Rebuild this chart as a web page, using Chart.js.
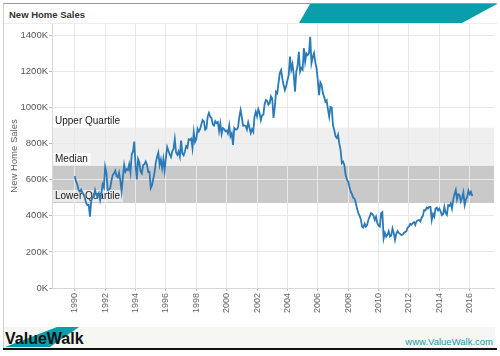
<!DOCTYPE html>
<html>
<head>
<meta charset="utf-8">
<script src="https://cdn.jsdelivr.net/npm/chart.js@4/dist/chart.umd.min.js"></script>
<style>
  html, body { margin: 0; padding: 0; background: #fff; }
  #wrap { position: relative; width: 500px; height: 356px; overflow: hidden; font-family: "Liberation Sans", Arial, sans-serif; }
  #frame { position: absolute; left: 3px; top: 3px; width: 494px; height: 345px; border-left: 1px solid #cfcfcf; border-top: 1px solid #9a9a9a; box-sizing: border-box; }
  #hdrline { position: absolute; left: 4px; top: 23px; width: 493px; height: 1px; background: #eeeeee; }
  #teal { position: absolute; left: 299px; top: 4px; width: 198px; height: 19px; background: #0a9eaa; clip-path: polygon(11px 0, 198px 0, 163px 19px, 0 19px); }
  #title { position: absolute; left: 9px; top: 9px; font-size: 9.5px; font-weight: bold; color: #333; }
  #footer { position: absolute; left: 4px; top: 327px; width: 491px; height: 21px; background: #f6f6f3; }
  #logoShape { position: absolute; left: 5px; top: 327px; width: 74px; height: 20px; background: #0a9eaa; clip-path: polygon(52px 0, 74px 0, 45px 20px, 0 20px); }
  #logo { position: absolute; left: 5px; top: 330px; font-size: 16px; font-weight: bold; color: #111; letter-spacing: 0px; }
  #url { position: absolute; right: 7px; top: 336px; font-size: 9.5px; color: #1a9aa8; }
  #bline { position: absolute; left: 3px; top: 348px; width: 494px; height: 2px; background: #111; }
  canvas { position: absolute; left: 0; top: 0; }
</style>
</head>
<body>
<div id="wrap">
  <div id="frame"></div>
  <div id="hdrline"></div>
  <div id="teal"></div>
  <div id="title">New Home Sales</div>
  <div id="footer"></div>
  <div id="logoShape"></div>
  <div id="logo">ValueWalk</div>
  <div id="url">www.ValueWalk.com</div>
  <div id="bline"></div>
  <canvas id="c" width="500" height="356"></canvas>
</div>
<script>
// ---- data (thousands of homes, seasonally adjusted annual rate), monthly from Jan 1990 ----
const firstYear = 1990;
const sales1990s = [
  620, 591, 574, 542, 534, 545, 529, 517, 499, 470, 460, 460,   // 1990
  395, 482, 507, 508, 543, 516, 511, 526, 487, 524, 575, 558,   // 1991
  672, 639, 543, 546, 554, 596, 627, 636, 650, 621, 614, 639,   // 1992
  595, 536, 614, 682, 645, 659, 653, 686, 640, 741, 757, 811,   // 1993
  678, 602, 714, 695, 646, 635, 681, 685, 701, 684, 643, 644,   // 1994
  554, 570, 604, 641, 693, 728, 751, 681, 711, 663, 715, 651,   // 1995
  723, 781, 760, 740, 726, 758, 771, 825, 752, 738, 756, 728,   // 1996
  817, 745, 735, 757, 786, 778, 824, 821, 828, 775, 863, 808,   // 1997
  824, 882, 867, 881, 907, 931, 923, 877, 883, 950, 971, 949,   // 1998
  942, 907, 900, 925, 914, 920, 869, 912, 853, 886, 881, 869    // 1999
];
const sales2000s = [
  873, 856, 900, 841, 857, 793, 887, 879, 878, 891, 948, 986,   // 2000
  945, 899, 901, 898, 878, 918, 889, 858, 880, 865, 949, 977,   // 2001
  951, 991, 970, 930, 958, 960, 1020, 1042, 1036, 1016, 1025, 1062, // 2002
  1050, 942, 1000, 1088, 1080, 1140, 1191, 1208, 1160, 1125, 1097, 1120, // 2003
  1150, 1180, 1282, 1210, 1240, 1180, 1088, 1200, 1230, 1309, 1200, 1220, // 2004
  1210, 1330, 1254, 1300, 1290, 1300, 1392, 1246, 1280, 1302, 1250, 1219, // 2005
  1150, 1069, 1140, 1125, 1080, 1060, 1032, 1040, 990, 949, 1004, 1000,  // 2006
  900, 875, 840, 831, 850, 800, 764, 692, 700, 680, 626, 600,   // 2007
  590, 560, 534, 520, 500, 495, 471, 440, 415, 400, 380, 340,   // 2008
  335, 356, 340, 350, 380, 395, 415, 410, 400, 377, 395, 360    // 2009
];
const sales2010s = [
  345, 340, 414, 420, 275, 305, 285, 295, 315, 285, 290, 330,   // 2010
  305, 266, 300, 315, 305, 300, 294, 295, 305, 310, 315, 335,   // 2011
  340, 355, 350, 360, 365, 350, 370, 375, 377, 370, 390, 400,   // 2012
  432, 430, 445, 440, 450, 450, 377, 410, 395, 440, 445, 430,   // 2013
  440, 425, 404, 410, 450, 415, 405, 460, 455, 469, 440, 490,   // 2014
  520, 543, 490, 520, 515, 480, 500, 530, 460, 490, 505, 540,   // 2015
  520, 533, 510                                                 // 2016
];
const quartileValues = [471, 677, 888];
const quartileNames = ['Lower Quartile', 'Median', 'Upper Quartile'];
const yearTicks = [1990, 1992, 1994, 1996, 1998, 2000, 2002, 2004, 2006, 2008, 2010, 2012, 2014, 2016];
const salesTicks = [0, 200, 400, 600, 800, 1000, 1200, 1400];

const allSales = sales1990s.concat(sales2000s, sales2010s);
const points = allSales.map((v, i) => ({ x: firstYear + i / 12, y: v }));

const bandPlugin = {
  id: 'bands',
  beforeDraw(chart) {
    const { ctx, chartArea: a, scales: { y } } = chart;
    const yL = y.getPixelForValue(quartileValues[0]);
    const yM = y.getPixelForValue(quartileValues[1]);
    const yU = y.getPixelForValue(quartileValues[2]);
    ctx.save();
    ctx.fillStyle = '#efefef';
    ctx.fillRect(a.left, yU, a.right - a.left, yM - yU);
    ctx.fillStyle = '#c9c9c9';
    ctx.fillRect(a.left, yM, a.right - a.left, yL - yM);
    ctx.restore();
  },
  beforeDatasetsDraw(chart) {
    const { ctx, chartArea: a, scales: { y } } = chart;
    ctx.save();
    ctx.font = '10px "Liberation Sans", Arial, sans-serif';
    ctx.textBaseline = 'middle';
    quartileValues.forEach((v, i) => {
      const py = y.getPixelForValue(v);
      const w = ctx.measureText(quartileNames[i]).width;
      ctx.fillStyle = 'rgba(255,255,255,0.6)';
      ctx.fillRect(a.left + 1, py - 13, w + 5, 12);
      ctx.fillStyle = '#1a1a1a';
      ctx.fillText(quartileNames[i], a.left + 3, py - 7);
    });
    ctx.restore();
  }
};

new Chart(document.getElementById('c'), {
  type: 'line',
  data: {
    datasets: [{
      data: points,
      borderColor: '#2a7ab8',
      borderWidth: 1.8,
      pointRadius: 0,
      tension: 0,
      fill: false
    }]
  },
  options: {
    responsive: false,
    animation: false,
    events: [],
    layout: { padding: { top: 24, right: 6, left: 0, bottom: 0 } },
    plugins: { legend: { display: false }, tooltip: { enabled: false } },
    scales: {
      x: {
        type: 'linear',
        min: 1988.5,
        max: 2017.6,
        afterBuildTicks: s => { s.ticks = yearTicks.map(v => ({ value: v })); },
        afterFit: s => { s.height = 68; },
        ticks: {
          minRotation: 90, maxRotation: 90, autoSkip: false,
          color: '#666', font: { size: 9, family: '"Liberation Sans", Arial, sans-serif' },
          padding: 2,
          callback: v => String(v)
        },
        grid: { color: '#e8e8e8', tickLength: 3, tickColor: '#bbb' },
        border: { color: '#d8d8d8' }
      },
      y: {
        min: 0,
        max: 1463,
        afterBuildTicks: s => { s.ticks = salesTicks.map(v => ({ value: v })); },
        afterFit: s => { s.width = 52; },
        ticks: {
          color: '#555', font: { size: 9.5, family: '"Liberation Sans", Arial, sans-serif' },
          padding: 1,
          callback: v => v + 'K'
        },
        title: {
          display: true, text: 'New Home Sales', color: '#666',
          font: { size: 9.5, family: '"Liberation Sans", Arial, sans-serif' },
          padding: { top: 9, bottom: 0 }
        },
        grid: { color: '#e8e8e8', tickLength: 3, tickColor: '#bbb' },
        border: { color: '#d8d8d8' }
      }
    }
  },
  plugins: [bandPlugin]
});
</script>
</body>
</html>
